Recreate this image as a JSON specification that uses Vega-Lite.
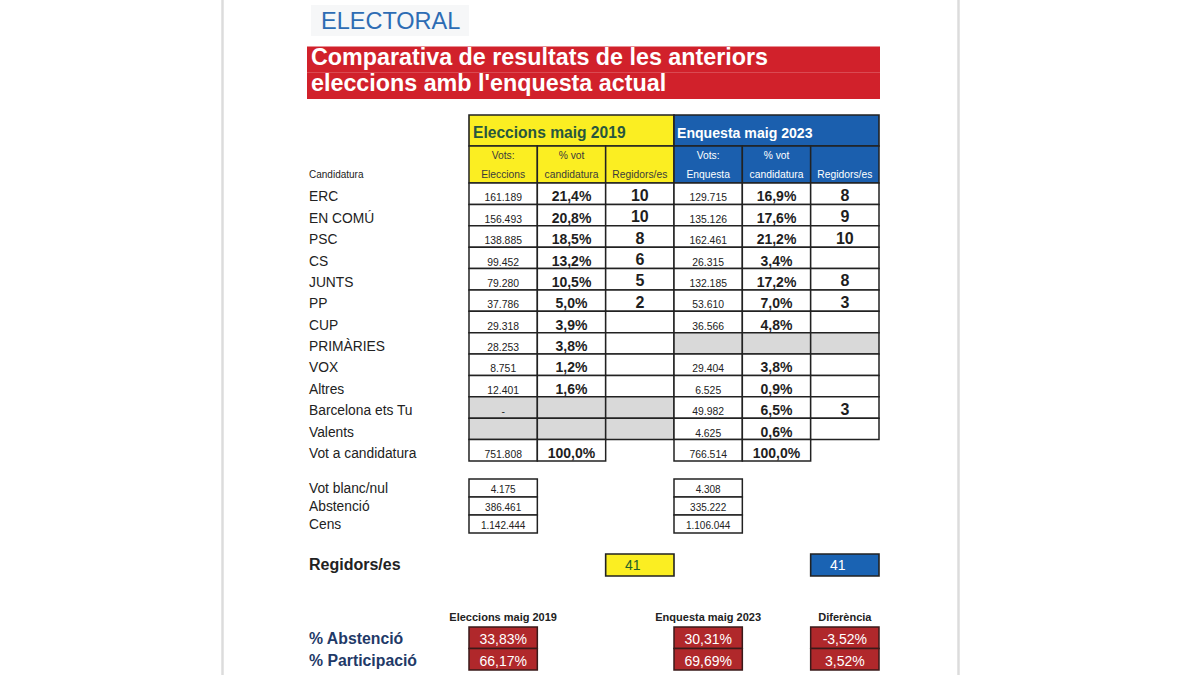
{
  "$schema": "https://vega.github.io/schema/vega-lite/v6.json",
  "width": 1200,
  "height": 675,
  "autosize": {"type": "none"},
  "padding": 0,
  "background": "white",
  "config": {"view": {"stroke": null}, "font": "Liberation Sans", "text": {"font": "Liberation Sans"}},
  "datasets": {
    "celles": [
      {"candidatura": "ERC", "col": "v19", "valor": "161.189", "estat": "ok"},
      {"candidatura": "ERC", "col": "p19", "valor": "21,4%", "estat": "ok"},
      {"candidatura": "ERC", "col": "s19", "valor": "10", "estat": "ok"},
      {"candidatura": "ERC", "col": "v23", "valor": "129.715", "estat": "ok"},
      {"candidatura": "ERC", "col": "p23", "valor": "16,9%", "estat": "ok"},
      {"candidatura": "ERC", "col": "s23", "valor": "8", "estat": "ok"},
      {"candidatura": "EN COMÚ", "col": "v19", "valor": "156.493", "estat": "ok"},
      {"candidatura": "EN COMÚ", "col": "p19", "valor": "20,8%", "estat": "ok"},
      {"candidatura": "EN COMÚ", "col": "s19", "valor": "10", "estat": "ok"},
      {"candidatura": "EN COMÚ", "col": "v23", "valor": "135.126", "estat": "ok"},
      {"candidatura": "EN COMÚ", "col": "p23", "valor": "17,6%", "estat": "ok"},
      {"candidatura": "EN COMÚ", "col": "s23", "valor": "9", "estat": "ok"},
      {"candidatura": "PSC", "col": "v19", "valor": "138.885", "estat": "ok"},
      {"candidatura": "PSC", "col": "p19", "valor": "18,5%", "estat": "ok"},
      {"candidatura": "PSC", "col": "s19", "valor": "8", "estat": "ok"},
      {"candidatura": "PSC", "col": "v23", "valor": "162.461", "estat": "ok"},
      {"candidatura": "PSC", "col": "p23", "valor": "21,2%", "estat": "ok"},
      {"candidatura": "PSC", "col": "s23", "valor": "10", "estat": "ok"},
      {"candidatura": "CS", "col": "v19", "valor": "99.452", "estat": "ok"},
      {"candidatura": "CS", "col": "p19", "valor": "13,2%", "estat": "ok"},
      {"candidatura": "CS", "col": "s19", "valor": "6", "estat": "ok"},
      {"candidatura": "CS", "col": "v23", "valor": "26.315", "estat": "ok"},
      {"candidatura": "CS", "col": "p23", "valor": "3,4%", "estat": "ok"},
      {"candidatura": "CS", "col": "s23", "valor": "", "estat": "ok"},
      {"candidatura": "JUNTS", "col": "v19", "valor": "79.280", "estat": "ok"},
      {"candidatura": "JUNTS", "col": "p19", "valor": "10,5%", "estat": "ok"},
      {"candidatura": "JUNTS", "col": "s19", "valor": "5", "estat": "ok"},
      {"candidatura": "JUNTS", "col": "v23", "valor": "132.185", "estat": "ok"},
      {"candidatura": "JUNTS", "col": "p23", "valor": "17,2%", "estat": "ok"},
      {"candidatura": "JUNTS", "col": "s23", "valor": "8", "estat": "ok"},
      {"candidatura": "PP", "col": "v19", "valor": "37.786", "estat": "ok"},
      {"candidatura": "PP", "col": "p19", "valor": "5,0%", "estat": "ok"},
      {"candidatura": "PP", "col": "s19", "valor": "2", "estat": "ok"},
      {"candidatura": "PP", "col": "v23", "valor": "53.610", "estat": "ok"},
      {"candidatura": "PP", "col": "p23", "valor": "7,0%", "estat": "ok"},
      {"candidatura": "PP", "col": "s23", "valor": "3", "estat": "ok"},
      {"candidatura": "CUP", "col": "v19", "valor": "29.318", "estat": "ok"},
      {"candidatura": "CUP", "col": "p19", "valor": "3,9%", "estat": "ok"},
      {"candidatura": "CUP", "col": "s19", "valor": "", "estat": "ok"},
      {"candidatura": "CUP", "col": "v23", "valor": "36.566", "estat": "ok"},
      {"candidatura": "CUP", "col": "p23", "valor": "4,8%", "estat": "ok"},
      {"candidatura": "CUP", "col": "s23", "valor": "", "estat": "ok"},
      {"candidatura": "PRIMÀRIES", "col": "v19", "valor": "28.253", "estat": "ok"},
      {"candidatura": "PRIMÀRIES", "col": "p19", "valor": "3,8%", "estat": "ok"},
      {"candidatura": "PRIMÀRIES", "col": "s19", "valor": "", "estat": "ok"},
      {"candidatura": "PRIMÀRIES", "col": "v23", "valor": "", "estat": "np"},
      {"candidatura": "PRIMÀRIES", "col": "p23", "valor": "", "estat": "np"},
      {"candidatura": "PRIMÀRIES", "col": "s23", "valor": "", "estat": "np"},
      {"candidatura": "VOX", "col": "v19", "valor": "8.751", "estat": "ok"},
      {"candidatura": "VOX", "col": "p19", "valor": "1,2%", "estat": "ok"},
      {"candidatura": "VOX", "col": "s19", "valor": "", "estat": "ok"},
      {"candidatura": "VOX", "col": "v23", "valor": "29.404", "estat": "ok"},
      {"candidatura": "VOX", "col": "p23", "valor": "3,8%", "estat": "ok"},
      {"candidatura": "VOX", "col": "s23", "valor": "", "estat": "ok"},
      {"candidatura": "Altres", "col": "v19", "valor": "12.401", "estat": "ok"},
      {"candidatura": "Altres", "col": "p19", "valor": "1,6%", "estat": "ok"},
      {"candidatura": "Altres", "col": "s19", "valor": "", "estat": "ok"},
      {"candidatura": "Altres", "col": "v23", "valor": "6.525", "estat": "ok"},
      {"candidatura": "Altres", "col": "p23", "valor": "0,9%", "estat": "ok"},
      {"candidatura": "Altres", "col": "s23", "valor": "", "estat": "ok"},
      {"candidatura": "Barcelona ets Tu", "col": "v19", "valor": "-", "estat": "np"},
      {"candidatura": "Barcelona ets Tu", "col": "p19", "valor": "", "estat": "np"},
      {"candidatura": "Barcelona ets Tu", "col": "s19", "valor": "", "estat": "np"},
      {"candidatura": "Barcelona ets Tu", "col": "v23", "valor": "49.982", "estat": "ok"},
      {"candidatura": "Barcelona ets Tu", "col": "p23", "valor": "6,5%", "estat": "ok"},
      {"candidatura": "Barcelona ets Tu", "col": "s23", "valor": "3", "estat": "ok"},
      {"candidatura": "Valents", "col": "v19", "valor": "", "estat": "np"},
      {"candidatura": "Valents", "col": "p19", "valor": "", "estat": "np"},
      {"candidatura": "Valents", "col": "s19", "valor": "", "estat": "np"},
      {"candidatura": "Valents", "col": "v23", "valor": "4.625", "estat": "ok"},
      {"candidatura": "Valents", "col": "p23", "valor": "0,6%", "estat": "ok"},
      {"candidatura": "Valents", "col": "s23", "valor": "", "estat": "ok"},
      {"candidatura": "Vot a candidatura", "col": "v19", "valor": "751.808", "estat": "ok"},
      {"candidatura": "Vot a candidatura", "col": "p19", "valor": "100,0%", "estat": "ok"},
      {"candidatura": "Vot a candidatura", "col": "v23", "valor": "766.514", "estat": "ok"},
      {"candidatura": "Vot a candidatura", "col": "p23", "valor": "100,0%", "estat": "ok"}
    ],
    "blocs": [
      {"bloc": "2019", "text": "Eleccions maig 2019"},
      {"bloc": "2023", "text": "Enquesta maig 2023"}
    ],
    "subcols": [
      {"col": "v19", "bloc": "2019"}, {"col": "p19", "bloc": "2019"}, {"col": "s19", "bloc": "2019"},
      {"col": "v23", "bloc": "2023"}, {"col": "p23", "bloc": "2023"}, {"col": "s23", "bloc": "2023"}
    ],
    "subtext": [
      {"col": "v19", "bloc": "2019", "linia": 1, "text": "Vots:"},
      {"col": "v19", "bloc": "2019", "linia": 2, "text": "Eleccions"},
      {"col": "p19", "bloc": "2019", "linia": 1, "text": "% vot"},
      {"col": "p19", "bloc": "2019", "linia": 2, "text": "candidatura"},
      {"col": "s19", "bloc": "2019", "linia": 2, "text": "Regidors/es"},
      {"col": "v23", "bloc": "2023", "linia": 1, "text": "Vots:"},
      {"col": "v23", "bloc": "2023", "linia": 2, "text": "Enquesta"},
      {"col": "p23", "bloc": "2023", "linia": 1, "text": "% vot"},
      {"col": "p23", "bloc": "2023", "linia": 2, "text": "candidatura"},
      {"col": "s23", "bloc": "2023", "linia": 2, "text": "Regidors/es"}
    ],
    "cens": [
      {"concepte": "Vot blanc/nul", "col": "v19", "valor": "4.175"},
      {"concepte": "Vot blanc/nul", "col": "v23", "valor": "4.308"},
      {"concepte": "Abstenció", "col": "v19", "valor": "386.461"},
      {"concepte": "Abstenció", "col": "v23", "valor": "335.222"},
      {"concepte": "Cens", "col": "v19", "valor": "1.142.444"},
      {"concepte": "Cens", "col": "v23", "valor": "1.106.044"}
    ],
    "regidors": [
      {"col": "s19", "bloc": "2019", "valor": "41"},
      {"col": "s23", "bloc": "2023", "valor": "41"}
    ],
    "participacio": [
      {"fila": "% Abstenció", "col": "v19", "valor": "33,83%"},
      {"fila": "% Abstenció", "col": "v23", "valor": "30,31%"},
      {"fila": "% Abstenció", "col": "s23", "valor": "-3,52%"},
      {"fila": "% Participació", "col": "v19", "valor": "66,17%"},
      {"fila": "% Participació", "col": "v23", "valor": "69,69%"},
      {"fila": "% Participació", "col": "s23", "valor": "3,52%"}
    ],
    "capparticipacio": [
      {"fila": "capçalera", "col": "v19", "text": "Eleccions maig 2019"},
      {"fila": "capçalera", "col": "v23", "text": "Enquesta maig 2023"},
      {"fila": "capçalera", "col": "s23", "text": "Diferència"}
    ]
  },
  "layer": [
    {
      "data": {"values": [{"vora": "esquerra"}, {"vora": "dreta"}]},
      "mark": {"type": "rule", "stroke": "#dcdcdc", "strokeWidth": 2.5},
      "encoding": {
        "x": {"field": "vora", "type": "nominal", "axis": null,
              "scale": {"type": "point", "domain": ["esquerra", "dreta"], "range": [222.5, 958.5], "padding": 0}}
      }
    },
    {
      "data": {"values": [{"seccio": "ELECTORAL"}]},
      "mark": {"type": "rect", "fill": "#f6f7f8"},
      "encoding": {
        "x": {"field": "seccio", "type": "nominal", "axis": null, "scale": {"type": "band", "range": [311, 469], "paddingInner": 0, "paddingOuter": 0}},
        "y": {"field": "seccio", "type": "nominal", "axis": null, "scale": {"type": "band", "range": [5, 36], "paddingInner": 0, "paddingOuter": 0}}
      }
    },
    {
      "data": {"values": [{"seccio": "ELECTORAL"}]},
      "mark": {"type": "text", "align": "left", "baseline": "alphabetic", "fontSize": 23.5, "fill": "#2d6cb4", "dx": 10, "dy": -6.7},
      "encoding": {
        "x": {"field": "seccio", "type": "nominal", "axis": null, "bandPosition": 0, "scale": {"type": "band", "range": [311, 469], "paddingInner": 0, "paddingOuter": 0}},
        "y": {"field": "seccio", "type": "nominal", "axis": null, "bandPosition": 1, "scale": {"type": "band", "range": [5, 36], "paddingInner": 0, "paddingOuter": 0}},
        "text": {"field": "seccio"}
      }
    },
    {
      "data": {"values": [
        {"bloc": "títol", "linia": 1, "text": "Comparativa de resultats de les anteriors"},
        {"bloc": "títol", "linia": 2, "text": "eleccions amb l'enquesta actual"}
      ]},
      "mark": {"type": "rect", "fill": "#d1212b"},
      "encoding": {
        "x": {"field": "bloc", "type": "nominal", "axis": null, "scale": {"type": "band", "range": [307, 880], "paddingInner": 0, "paddingOuter": 0}},
        "y": {"field": "linia", "type": "ordinal", "axis": null, "scale": {"type": "band", "domain": [1, 2], "range": [46.5, 99], "paddingInner": 0, "paddingOuter": 0}}
      }
    },
    {
      "data": {"values": [
        {"bloc": "títol", "linia": 1, "text": "Comparativa de resultats de les anteriors"},
        {"bloc": "títol", "linia": 2, "text": "eleccions amb l'enquesta actual"}
      ]},
      "mark": {"type": "text", "align": "left", "baseline": "alphabetic", "fontSize": 23.3, "fontWeight": "bold", "fill": "white", "dx": 4, "dy": -8},
      "encoding": {
        "x": {"field": "bloc", "type": "nominal", "axis": null, "bandPosition": 0, "scale": {"type": "band", "range": [307, 880], "paddingInner": 0, "paddingOuter": 0}},
        "y": {"field": "linia", "type": "ordinal", "axis": null, "bandPosition": 1, "scale": {"type": "band", "domain": [1, 2], "range": [46.5, 99], "paddingInner": 0, "paddingOuter": 0}},
        "text": {"field": "text"}
      }
    },
    {
      "data": {"name": "blocs"},
      "mark": {"type": "rect", "stroke": "#222222", "strokeWidth": 1.6},
      "encoding": {
        "x": {"field": "bloc", "type": "nominal", "axis": null, "scale": {"type": "band", "domain": ["2019", "2023"], "range": [469, 879], "paddingInner": 0, "paddingOuter": 0}},
        "y": {"datum": "capçalera", "type": "nominal", "axis": null, "scale": {"type": "band", "domain": ["capçalera"], "range": [115, 146], "paddingInner": 0, "paddingOuter": 0}},
        "color": {"field": "bloc", "type": "nominal", "legend": null, "scale": {"domain": ["2019", "2023"], "range": ["#fbee22", "#1b5fae"]}}
      }
    },
    {
      "data": {"name": "blocs"},
      "transform": [{"filter": {"field": "bloc", "equal": "2019"}}],
      "mark": {"type": "text", "align": "left", "baseline": "alphabetic", "fontSize": 15.6, "fontWeight": "bold", "fill": "#28573e", "dx": 4, "dy": -8.5},
      "encoding": {
        "x": {"field": "bloc", "type": "nominal", "axis": null, "bandPosition": 0, "scale": {"type": "band", "domain": ["2019", "2023"], "range": [469, 879], "paddingInner": 0, "paddingOuter": 0}},
        "y": {"datum": "capçalera", "type": "nominal", "axis": null, "bandPosition": 1, "scale": {"type": "band", "domain": ["capçalera"], "range": [115, 146], "paddingInner": 0, "paddingOuter": 0}},
        "text": {"field": "text"}
      }
    },
    {
      "data": {"name": "blocs"},
      "transform": [{"filter": {"field": "bloc", "equal": "2023"}}],
      "mark": {"type": "text", "align": "left", "baseline": "alphabetic", "fontSize": 14.1, "fontWeight": "bold", "fill": "white", "dx": 3, "dy": -8.5},
      "encoding": {
        "x": {"field": "bloc", "type": "nominal", "axis": null, "bandPosition": 0, "scale": {"type": "band", "domain": ["2019", "2023"], "range": [469, 879], "paddingInner": 0, "paddingOuter": 0}},
        "y": {"datum": "capçalera", "type": "nominal", "axis": null, "bandPosition": 1, "scale": {"type": "band", "domain": ["capçalera"], "range": [115, 146], "paddingInner": 0, "paddingOuter": 0}},
        "text": {"field": "text"}
      }
    },
    {
      "data": {"name": "subcols"},
      "mark": {"type": "rect", "stroke": "#222222", "strokeWidth": 1.5},
      "encoding": {
        "x": {"field": "col", "type": "nominal", "axis": null, "scale": {"type": "band", "domain": ["v19", "p19", "s19", "v23", "p23", "s23"], "range": [469, 879], "paddingInner": 0, "paddingOuter": 0}},
        "y": {"datum": "sub", "type": "nominal", "axis": null, "scale": {"type": "band", "domain": ["sub"], "range": [146, 183], "paddingInner": 0, "paddingOuter": 0}},
        "color": {"field": "bloc", "type": "nominal", "legend": null, "scale": {"domain": ["2019", "2023"], "range": ["#fbee22", "#1b5fae"]}}
      }
    },
    {
      "data": {"name": "subtext"},
      "mark": {"type": "text", "baseline": "alphabetic", "fontSize": 10.3, "dy": -5.5},
      "encoding": {
        "x": {"field": "col", "type": "nominal", "axis": null, "scale": {"type": "band", "domain": ["v19", "p19", "s19", "v23", "p23", "s23"], "range": [469, 879], "paddingInner": 0, "paddingOuter": 0}},
        "y": {"field": "linia", "type": "ordinal", "axis": null, "bandPosition": 1, "scale": {"type": "band", "domain": [1, 2], "range": [146, 183], "paddingInner": 0, "paddingOuter": 0}},
        "color": {"field": "bloc", "type": "nominal", "legend": null, "scale": {"domain": ["2019", "2023"], "range": ["#3a3a3a", "#ffffff"]}},
        "text": {"field": "text"}
      }
    },
    {
      "data": {"values": [{"linia": 2, "text": "Candidatura"}]},
      "mark": {"type": "text", "align": "left", "baseline": "alphabetic", "fontSize": 10, "fill": "#222222", "dy": -5.5},
      "encoding": {
        "x": {"datum": "etiqueta", "type": "nominal", "axis": null, "bandPosition": 0, "scale": {"type": "band", "domain": ["etiqueta"], "range": [309, 469], "paddingInner": 0, "paddingOuter": 0}},
        "y": {"field": "linia", "type": "ordinal", "axis": null, "bandPosition": 1, "scale": {"type": "band", "domain": [1, 2], "range": [146, 183], "paddingInner": 0, "paddingOuter": 0}},
        "text": {"field": "text"}
      }
    },
    {
      "data": {"name": "celles"},
      "mark": {"type": "rect", "stroke": "#222222", "strokeWidth": 1.5},
      "encoding": {
        "x": {"field": "col", "type": "nominal", "axis": null, "scale": {"type": "band", "domain": ["v19", "p19", "s19", "v23", "p23", "s23"], "range": [469, 879], "paddingInner": 0, "paddingOuter": 0}},
        "y": {"field": "candidatura", "type": "nominal", "axis": null, "scale": {"type": "band", "domain": ["ERC", "EN COMÚ", "PSC", "CS", "JUNTS", "PP", "CUP", "PRIMÀRIES", "VOX", "Altres", "Barcelona ets Tu", "Valents", "Vot a candidatura"], "range": [183, 461], "paddingInner": 0, "paddingOuter": 0}},
        "color": {"field": "estat", "type": "nominal", "legend": null, "scale": {"domain": ["ok", "np"], "range": ["#ffffff", "#d9d9d9"]}}
      }
    },
    {
      "data": {"name": "celles"},
      "transform": [{"filter": {"field": "col", "oneOf": ["v19", "v23"]}}],
      "mark": {"type": "text", "baseline": "alphabetic", "fontSize": 10.4, "fill": "#222222", "dy": -3},
      "encoding": {
        "x": {"field": "col", "type": "nominal", "axis": null, "scale": {"type": "band", "domain": ["v19", "p19", "s19", "v23", "p23", "s23"], "range": [469, 879], "paddingInner": 0, "paddingOuter": 0}},
        "y": {"field": "candidatura", "type": "nominal", "axis": null, "bandPosition": 1, "scale": {"type": "band", "domain": ["ERC", "EN COMÚ", "PSC", "CS", "JUNTS", "PP", "CUP", "PRIMÀRIES", "VOX", "Altres", "Barcelona ets Tu", "Valents", "Vot a candidatura"], "range": [183, 461], "paddingInner": 0, "paddingOuter": 0}},
        "text": {"field": "valor"}
      }
    },
    {
      "data": {"name": "celles"},
      "transform": [{"filter": {"field": "col", "oneOf": ["p19", "p23"]}}],
      "mark": {"type": "text", "baseline": "alphabetic", "fontSize": 14, "fontWeight": "bold", "fill": "#1e1e1e", "dy": -3},
      "encoding": {
        "x": {"field": "col", "type": "nominal", "axis": null, "scale": {"type": "band", "domain": ["v19", "p19", "s19", "v23", "p23", "s23"], "range": [469, 879], "paddingInner": 0, "paddingOuter": 0}},
        "y": {"field": "candidatura", "type": "nominal", "axis": null, "bandPosition": 1, "scale": {"type": "band", "domain": ["ERC", "EN COMÚ", "PSC", "CS", "JUNTS", "PP", "CUP", "PRIMÀRIES", "VOX", "Altres", "Barcelona ets Tu", "Valents", "Vot a candidatura"], "range": [183, 461], "paddingInner": 0, "paddingOuter": 0}},
        "text": {"field": "valor"}
      }
    },
    {
      "data": {"name": "celles"},
      "transform": [{"filter": {"field": "col", "oneOf": ["s19", "s23"]}}],
      "mark": {"type": "text", "baseline": "alphabetic", "fontSize": 16, "fontWeight": "bold", "fill": "#1e1e1e", "dy": -3.5},
      "encoding": {
        "x": {"field": "col", "type": "nominal", "axis": null, "scale": {"type": "band", "domain": ["v19", "p19", "s19", "v23", "p23", "s23"], "range": [469, 879], "paddingInner": 0, "paddingOuter": 0}},
        "y": {"field": "candidatura", "type": "nominal", "axis": null, "bandPosition": 1, "scale": {"type": "band", "domain": ["ERC", "EN COMÚ", "PSC", "CS", "JUNTS", "PP", "CUP", "PRIMÀRIES", "VOX", "Altres", "Barcelona ets Tu", "Valents", "Vot a candidatura"], "range": [183, 461], "paddingInner": 0, "paddingOuter": 0}},
        "text": {"field": "valor"}
      }
    },
    {
      "data": {"name": "celles"},
      "transform": [{"filter": {"field": "col", "equal": "v19"}}],
      "mark": {"type": "text", "align": "left", "baseline": "alphabetic", "fontSize": 13.8, "fill": "#222222", "dy": -3},
      "encoding": {
        "x": {"datum": "etiqueta", "type": "nominal", "axis": null, "bandPosition": 0, "scale": {"type": "band", "domain": ["etiqueta"], "range": [309, 469], "paddingInner": 0, "paddingOuter": 0}},
        "y": {"field": "candidatura", "type": "nominal", "axis": null, "bandPosition": 1, "scale": {"type": "band", "domain": ["ERC", "EN COMÚ", "PSC", "CS", "JUNTS", "PP", "CUP", "PRIMÀRIES", "VOX", "Altres", "Barcelona ets Tu", "Valents", "Vot a candidatura"], "range": [183, 461], "paddingInner": 0, "paddingOuter": 0}},
        "text": {"field": "candidatura"}
      }
    },
    {
      "data": {"name": "cens"},
      "mark": {"type": "rect", "fill": "white", "stroke": "#222222", "strokeWidth": 1.5},
      "encoding": {
        "x": {"field": "col", "type": "nominal", "axis": null, "scale": {"type": "band", "domain": ["v19", "p19", "s19", "v23", "p23", "s23"], "range": [469, 879], "paddingInner": 0, "paddingOuter": 0}},
        "y": {"field": "concepte", "type": "nominal", "axis": null, "scale": {"type": "band", "domain": ["Vot blanc/nul", "Abstenció", "Cens"], "range": [479, 533], "paddingInner": 0, "paddingOuter": 0}}
      }
    },
    {
      "data": {"name": "cens"},
      "mark": {"type": "text", "baseline": "alphabetic", "fontSize": 10, "fill": "#222222", "dy": -4.3},
      "encoding": {
        "x": {"field": "col", "type": "nominal", "axis": null, "scale": {"type": "band", "domain": ["v19", "p19", "s19", "v23", "p23", "s23"], "range": [469, 879], "paddingInner": 0, "paddingOuter": 0}},
        "y": {"field": "concepte", "type": "nominal", "axis": null, "bandPosition": 1, "scale": {"type": "band", "domain": ["Vot blanc/nul", "Abstenció", "Cens"], "range": [479, 533], "paddingInner": 0, "paddingOuter": 0}},
        "text": {"field": "valor"}
      }
    },
    {
      "data": {"name": "cens"},
      "transform": [{"filter": {"field": "col", "equal": "v19"}}],
      "mark": {"type": "text", "align": "left", "baseline": "alphabetic", "fontSize": 13.8, "fill": "#222222", "dy": -4},
      "encoding": {
        "x": {"datum": "etiqueta", "type": "nominal", "axis": null, "bandPosition": 0, "scale": {"type": "band", "domain": ["etiqueta"], "range": [309, 469], "paddingInner": 0, "paddingOuter": 0}},
        "y": {"field": "concepte", "type": "nominal", "axis": null, "bandPosition": 1, "scale": {"type": "band", "domain": ["Vot blanc/nul", "Abstenció", "Cens"], "range": [479, 533], "paddingInner": 0, "paddingOuter": 0}},
        "text": {"field": "concepte"}
      }
    },
    {
      "data": {"name": "regidors"},
      "mark": {"type": "rect", "stroke": "#222222", "strokeWidth": 1.6},
      "encoding": {
        "x": {"field": "col", "type": "nominal", "axis": null, "scale": {"type": "band", "domain": ["v19", "p19", "s19", "v23", "p23", "s23"], "range": [469, 879], "paddingInner": 0, "paddingOuter": 0}},
        "y": {"datum": "Regidors/es", "type": "nominal", "axis": null, "scale": {"type": "band", "domain": ["Regidors/es"], "range": [554, 576], "paddingInner": 0, "paddingOuter": 0}},
        "color": {"field": "bloc", "type": "nominal", "legend": null, "scale": {"domain": ["2019", "2023"], "range": ["#fbee22", "#1a63b3"]}}
      }
    },
    {
      "data": {"name": "regidors"},
      "mark": {"type": "text", "baseline": "alphabetic", "fontSize": 14, "dx": -7, "dy": -6},
      "encoding": {
        "x": {"field": "col", "type": "nominal", "axis": null, "scale": {"type": "band", "domain": ["v19", "p19", "s19", "v23", "p23", "s23"], "range": [469, 879], "paddingInner": 0, "paddingOuter": 0}},
        "y": {"datum": "Regidors/es", "type": "nominal", "axis": null, "bandPosition": 1, "scale": {"type": "band", "domain": ["Regidors/es"], "range": [554, 576], "paddingInner": 0, "paddingOuter": 0}},
        "color": {"field": "bloc", "type": "nominal", "legend": null, "scale": {"domain": ["2019", "2023"], "range": ["#24602a", "#ffffff"]}},
        "text": {"field": "valor"}
      }
    },
    {
      "data": {"values": [{"text": "Regidors/es"}]},
      "mark": {"type": "text", "align": "left", "baseline": "alphabetic", "fontSize": 16, "fontWeight": "bold", "fill": "#222222", "dy": -6},
      "encoding": {
        "x": {"datum": "etiqueta", "type": "nominal", "axis": null, "bandPosition": 0, "scale": {"type": "band", "domain": ["etiqueta"], "range": [309, 469], "paddingInner": 0, "paddingOuter": 0}},
        "y": {"datum": "Regidors/es", "type": "nominal", "axis": null, "bandPosition": 1, "scale": {"type": "band", "domain": ["Regidors/es"], "range": [554, 576], "paddingInner": 0, "paddingOuter": 0}},
        "text": {"field": "text"}
      }
    },
    {
      "data": {"name": "participacio"},
      "mark": {"type": "rect", "fill": "#b0282b", "stroke": "#3a1a1a", "strokeWidth": 1.5},
      "encoding": {
        "x": {"field": "col", "type": "nominal", "axis": null, "scale": {"type": "band", "domain": ["v19", "p19", "s19", "v23", "p23", "s23"], "range": [469, 879], "paddingInner": 0, "paddingOuter": 0}},
        "y": {"field": "fila", "type": "nominal", "axis": null, "scale": {"type": "band", "domain": ["capçalera", "% Abstenció", "% Participació"], "range": [605.5, 670], "paddingInner": 0, "paddingOuter": 0}}
      }
    },
    {
      "data": {"name": "participacio"},
      "mark": {"type": "text", "baseline": "alphabetic", "fontSize": 14, "fill": "white", "dy": -4.5},
      "encoding": {
        "x": {"field": "col", "type": "nominal", "axis": null, "scale": {"type": "band", "domain": ["v19", "p19", "s19", "v23", "p23", "s23"], "range": [469, 879], "paddingInner": 0, "paddingOuter": 0}},
        "y": {"field": "fila", "type": "nominal", "axis": null, "bandPosition": 1, "scale": {"type": "band", "domain": ["capçalera", "% Abstenció", "% Participació"], "range": [605.5, 670], "paddingInner": 0, "paddingOuter": 0}},
        "text": {"field": "valor"}
      }
    },
    {
      "data": {"name": "participacio"},
      "transform": [{"filter": {"field": "col", "equal": "v19"}}],
      "mark": {"type": "text", "align": "left", "baseline": "alphabetic", "fontSize": 15.8, "fontWeight": "bold", "fill": "#1f3a68", "dy": -4.5},
      "encoding": {
        "x": {"datum": "etiqueta", "type": "nominal", "axis": null, "bandPosition": 0, "scale": {"type": "band", "domain": ["etiqueta"], "range": [309, 469], "paddingInner": 0, "paddingOuter": 0}},
        "y": {"field": "fila", "type": "nominal", "axis": null, "bandPosition": 1, "scale": {"type": "band", "domain": ["capçalera", "% Abstenció", "% Participació"], "range": [605.5, 670], "paddingInner": 0, "paddingOuter": 0}},
        "text": {"field": "fila"}
      }
    },
    {
      "data": {"name": "capparticipacio"},
      "mark": {"type": "text", "baseline": "alphabetic", "fontSize": 11, "fontWeight": "bold", "fill": "#222222", "dy": -6.5},
      "encoding": {
        "x": {"field": "col", "type": "nominal", "axis": null, "scale": {"type": "band", "domain": ["v19", "p19", "s19", "v23", "p23", "s23"], "range": [469, 879], "paddingInner": 0, "paddingOuter": 0}},
        "y": {"field": "fila", "type": "nominal", "axis": null, "bandPosition": 1, "scale": {"type": "band", "domain": ["capçalera", "% Abstenció", "% Participació"], "range": [605.5, 670], "paddingInner": 0, "paddingOuter": 0}},
        "text": {"field": "text"}
      }
    }
  ],
  "resolve": {"scale": {"x": "independent", "y": "independent", "color": "independent"}}
}
